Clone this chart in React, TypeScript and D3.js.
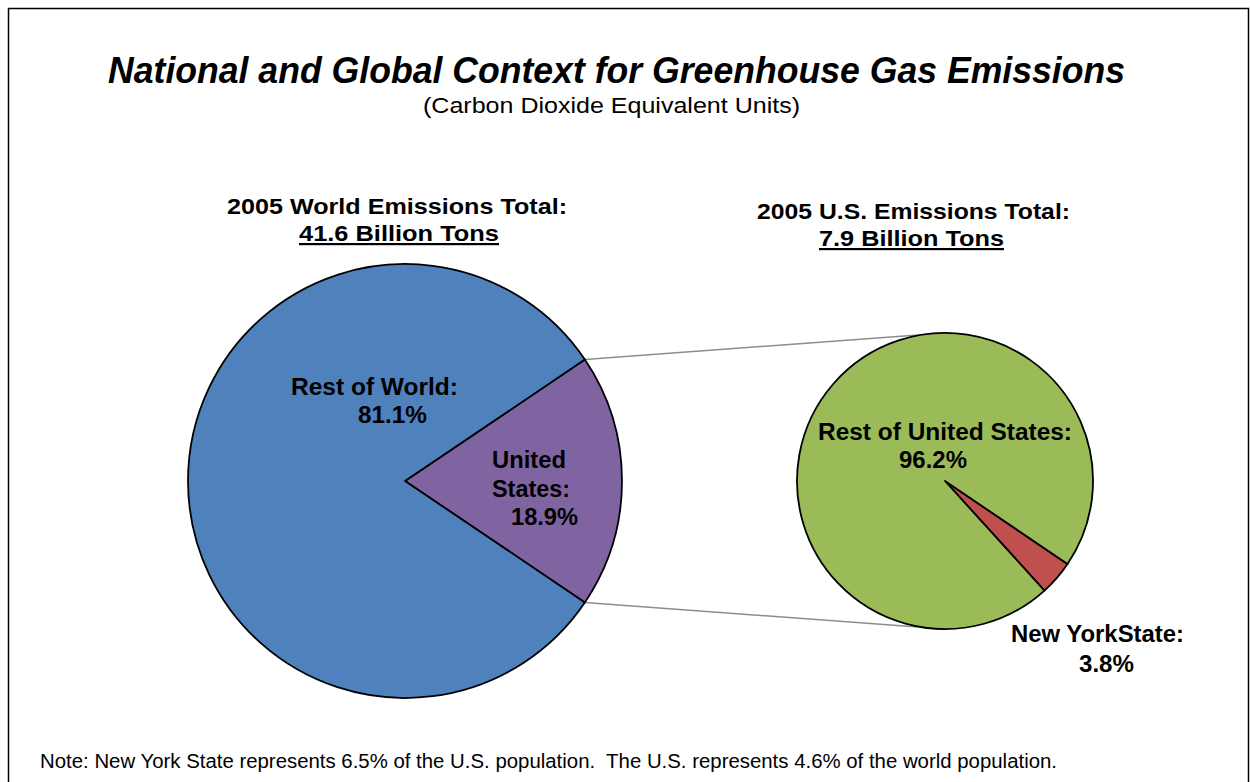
import React from "react";
import * as d3 from "d3";

const worldCategories = ["United States", "Rest of World"];
const worldValues = [18.9, 81.1];
const usCategories = ["New York State", "Rest of United States"];
const usValues = [3.8, 96.2];

const worldColors = ["#8064A2", "#4F81BD"];
const usColors = ["#C0504D", "#9BBB59"];

const W = 1250;
const H = 782;
const FONT = "'Liberation Sans', Arial, sans-serif";

type TProps = {
  x: number;
  y: number;
  w: number;
  size: number;
  weight?: number;
  italic?: boolean;
  underline?: boolean;
  anchor?: "start" | "middle";
  children: React.ReactNode;
};

function T({ x, y, w, size, weight = 700, italic, underline, anchor = "middle", children }: TProps) {
  return (
    <text
      x={x}
      y={y}
      textAnchor={anchor}
      fontFamily={FONT}
      fontWeight={weight}
      fontStyle={italic ? "italic" : "normal"}
      fontSize={size}
      textDecoration={underline ? "underline" : undefined}
      textLength={w}
      lengthAdjust="spacingAndGlyphs"
      fill="#000"
      style={{ whiteSpace: "pre" }}
    >
      {children}
    </text>
  );
}

export default function App() {
  const c1 = { x: 405, y: 481, r: 217 };
  const c2 = { x: 945, y: 481, r: 148 };

  const usFrac = worldValues[0] / d3.sum(worldValues);
  const pieWorld = d3
    .pie<number>()
    .sort(null)
    .value((d) => d)
    .startAngle(Math.PI / 2 - usFrac * Math.PI)
    .endAngle(Math.PI / 2 - usFrac * Math.PI + 2 * Math.PI)(worldValues);

  const nyStart = (124.1 * Math.PI) / 180;
  const pieUS = d3
    .pie<number>()
    .sort(null)
    .value((d) => d)
    .startAngle(nyStart)
    .endAngle(nyStart + 2 * Math.PI)(usValues);

  const arc1 = d3.arc<d3.PieArcDatum<number>>().innerRadius(0).outerRadius(c1.r);
  const arc2 = d3.arc<d3.PieArcDatum<number>>().innerRadius(0).outerRadius(c2.r);

  const usArc = pieWorld[0];
  const p1 = [c1.x + c1.r * Math.sin(usArc.startAngle), c1.y - c1.r * Math.cos(usArc.startAngle)];
  const p2 = [c1.x + c1.r * Math.sin(usArc.endAngle), c1.y - c1.r * Math.cos(usArc.endAngle)];

  const L = 23;
  const HS = 22;

  return (
    <svg
      width={W}
      height={H}
      style={{ position: "absolute", left: 0, top: 0, background: "#fff" }}
    >
      <rect x={8.5} y={8.5} width={1240} height={800} fill="#fff" stroke="#000" strokeWidth={1.5} />

      <T x={616.5} y={83} w={1017} size={37} italic>
        National and Global Context for Greenhouse Gas Emissions
      </T>
      <T x={611.5} y={113} w={377} size={22} weight={400}>
        (Carbon Dioxide Equivalent Units)
      </T>

      <T x={397} y={214} w={340} size={HS}>2005 World Emissions Total:</T>
      <T x={399} y={241} w={200} size={HS} underline>41.6 Billion Tons</T>
      <T x={913.5} y={219} w={313} size={HS}>2005 U.S. Emissions Total:</T>
      <T x={911.5} y={246} w={185} size={HS} underline>7.9 Billion Tons</T>

      <line x1={p1[0]} y1={p1[1]} x2={c2.x} y2={c2.y - c2.r} stroke="#8c8c8c" strokeWidth={1.5} />
      <line x1={p2[0]} y1={p2[1]} x2={c2.x} y2={c2.y + c2.r} stroke="#8c8c8c" strokeWidth={1.5} />

      <g transform={`translate(${c1.x},${c1.y})`}>
        {pieWorld.map((d, i) => (
          <path key={worldCategories[i]} d={arc1(d) || ""} fill={worldColors[i]} stroke="#000" strokeWidth={1.8} strokeLinejoin="round" />
        ))}
      </g>
      <g transform={`translate(${c2.x},${c2.y})`}>
        {pieUS.map((d, i) => (
          <path key={usCategories[i]} d={arc2(d) || ""} fill={usColors[i]} stroke="#000" strokeWidth={1.8} strokeLinejoin="round" />
        ))}
      </g>

      <T x={374.5} y={395} w={167} size={L}>Rest of World:</T>
      <T x={392.5} y={423} w={69} size={L}>{`${worldValues[1].toFixed(1)}%`}</T>
      <T x={529} y={468} w={74} size={L}>United</T>
      <T x={531} y={497} w={78} size={L}>States:</T>
      <T x={544.5} y={525} w={67} size={L}>{`${worldValues[0].toFixed(1)}%`}</T>

      <T x={945} y={440} w={254} size={L}>Rest of United States:</T>
      <T x={933} y={468} w={68} size={L}>{`${usValues[1].toFixed(1)}%`}</T>
      <T x={1097.5} y={642} w={173} size={L}>New YorkState:</T>
      <T x={1106.5} y={672} w={55} size={L}>{`${usValues[0].toFixed(1)}%`}</T>

      <T x={40} y={768} w={1017} size={20} weight={400} anchor="start">
        Note: New York State represents 6.5% of the U.S. population.  The U.S. represents 4.6% of the world population.
      </T>
    </svg>
  );
}
